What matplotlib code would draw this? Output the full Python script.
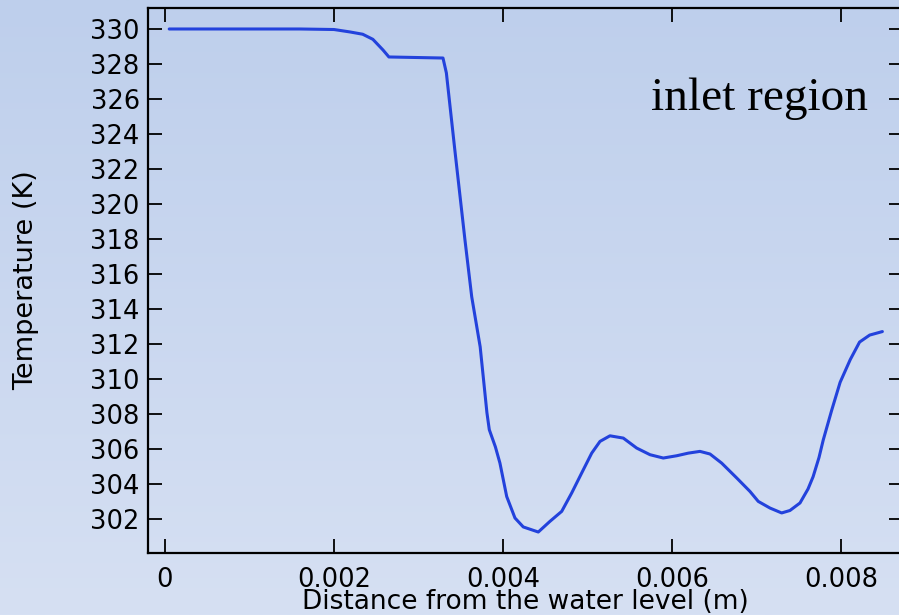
import numpy as np
import matplotlib
matplotlib.use("Agg")
import matplotlib.pyplot as plt
from matplotlib.colors import LinearSegmentedColormap

# Temperature profile along the distance from the water level
distance_m = [
    0.00005, 0.00100, 0.00160, 0.00200, 0.00219, 0.00234, 0.00246, 0.00258,
    0.00265, 0.00329, 0.00333, 0.00343, 0.00355, 0.00363, 0.00373, 0.00381,
    0.003838, 0.00391, 0.003964, 0.004044, 0.004142, 0.004240, 0.004418,
    0.004556, 0.004695, 0.004813, 0.004931, 0.005050, 0.005148, 0.005266,
    0.005424, 0.005582, 0.005740, 0.005897, 0.006056, 0.006193, 0.006331,
    0.006450, 0.006588, 0.006766, 0.006923, 0.007021, 0.007160, 0.007298,
    0.007396, 0.007515, 0.00761, 0.00767, 0.00774, 0.00779, 0.00789,
    0.00799, 0.00811, 0.00822, 0.00834, 0.00849,
]
temperature_K = [
    330.00, 330.00, 330.00, 329.97, 329.83, 329.70, 329.41, 328.80,
    328.40, 328.34, 327.49, 323.09, 317.94, 314.69, 311.83, 308.06,
    307.09, 306.11, 305.18, 303.27, 302.04, 301.53, 301.24,
    301.85, 302.42, 303.47, 304.61, 305.75, 306.42, 306.74,
    306.61, 306.04, 305.66, 305.47, 305.60, 305.75, 305.85,
    305.70, 305.18, 304.33, 303.56, 302.99, 302.61, 302.33,
    302.47, 302.90, 303.70, 304.40, 305.50, 306.50, 308.20,
    309.80, 311.10, 312.10, 312.50, 312.70,
]
x_ticks = [0, 0.002, 0.004, 0.006, 0.008]
x_tick_labels = ["0", "0.002", "0.004", "0.006", "0.008"]
y_ticks = list(range(302, 331, 2))

fig = plt.figure(figsize=(8.99, 6.15), dpi=100)

# Vertical gradient background across the whole figure
bg = fig.add_axes([0, 0, 1, 1], zorder=-10)
grad = np.linspace(0, 1, 256).reshape(-1, 1)
cmap = LinearSegmentedColormap.from_list("bg", ["#d6e0f3", "#becfec"])
bg.imshow(grad, aspect="auto", cmap=cmap, origin="lower", extent=[0, 1, 0, 1])
bg.set_axis_off()

ax = fig.add_axes([148 / 899, 62 / 615, (903 - 148) / 899, (553 - 8) / 615])
ax.set_facecolor("none")
ax.plot(distance_m, temperature_K, color="#2342dc", lw=2.2,
        solid_joinstyle="round", solid_capstyle="round")

ax.set_xlim(-0.000201, 0.008734)
ax.set_ylim(300.04, 331.2)
ax.set_xticks(x_ticks)
ax.set_xticklabels(x_tick_labels)
ax.set_yticks(y_ticks)
ax.tick_params(direction="in", length=10, width=1.3, top=True, right=True,
               labelsize=18.5)
ax.tick_params(axis="x", pad=10)
ax.tick_params(axis="y", pad=6)
for s in ax.spines.values():
    s.set_linewidth(1.6)

ax.set_xlabel("Distance from the water level (m)", fontsize=19, labelpad=-2.5)
ax.set_ylabel("Temperature (K)", fontsize=19.5, labelpad=37)

fig.text(651 / 899, 1 - 110 / 615, "inlet region", family="Liberation Serif",
         fontsize=34, ha="left", va="baseline")

fig.savefig("out.png", dpi=100)
